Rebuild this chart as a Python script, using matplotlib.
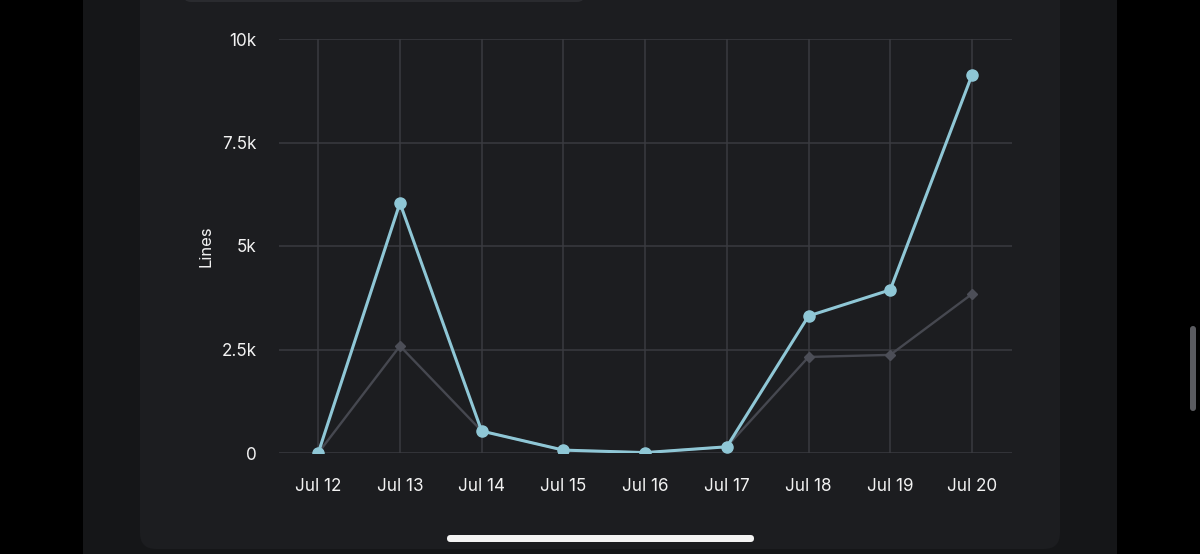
import matplotlib
matplotlib.use("Agg")
import matplotlib.pyplot as plt
from matplotlib.patches import FancyBboxPatch

# data
days = ["Jul 12", "Jul 13", "Jul 14", "Jul 15", "Jul 16", "Jul 17", "Jul 18", "Jul 19", "Jul 20"]
added = [0, 6040, 530, 70, 10, 150, 3310, 3940, 9130]
removed = [0, 2585, 530, 70, 10, 150, 2320, 2370, 3840]
yticks = [0, 2500, 5000, 7500, 10000]
ytick_labels = ["0", "2.5k", "5k", "7.5k", "10k"]

W, H = 1200, 554
plt.rcParams["font.family"] = ["Inter", "DejaVu Sans"]

fig = plt.figure(figsize=(W / 100, H / 100), dpi=100)
fig.patch.set_facecolor("#000000")


def box(x0, y0, x1, y1, color, r=0):
    # pixel box (top-left origin) -> figure coords
    p = FancyBboxPatch((x0 / W, 1 - y1 / H), (x1 - x0) / W, (y1 - y0) / H,
                       boxstyle=f"round,pad=0,rounding_size={r / W}",
                       transform=fig.transFigure, facecolor=color,
                       edgecolor="none", mutation_aspect=W / H, zorder=-5)
    fig.patches.append(p)


box(83, -10, 1117, 564, "#151618")
box(140, -30, 1060, 549, "#1c1d20", r=16)
box(183, -20, 585, 2, "#2a2b2f", r=8)
box(447, 535, 754, 542, "#f4f4f4", r=3.5)
box(1190, 326, 1196, 411, "#5a5b60", r=3)

ax = fig.add_axes([279 / W, 1 - 453 / H, 733 / W, 414 / H])
ax.set_facecolor("none")
x = list(range(len(days)))

ax.plot(x, removed, color="#464850", lw=1.7, marker="D", ms=5.5,
        mfc="#4c4e57", mec="#4c4e57", zorder=3)
ax.plot(x, added, color="#8fc7d6", lw=2.2, marker="o", ms=8,
        mfc="#8fc7d6", mec="#8fc7d6", zorder=4)

ax.set_xlim(-0.48, len(days) - 1 + 0.49)
ax.set_ylim(0, 10000)
ax.set_xticks(x)
ax.set_xticklabels(days)
ax.set_yticks(yticks)
ax.set_yticklabels(ytick_labels)
ax.grid(True, color="#3a3b40", lw=1.1)
ax.set_axisbelow(True)
for s in ax.spines.values():
    s.set_visible(False)
ax.tick_params(length=0, colors="#f2f2f2", labelsize=12.3)
ax.tick_params(axis="x", pad=18)
ax.tick_params(axis="y", pad=16)
ax.set_ylabel("Lines", color="#f2f2f2", fontsize=12, labelpad=6)

fig.savefig("out.png", dpi=100, facecolor=fig.get_facecolor())
